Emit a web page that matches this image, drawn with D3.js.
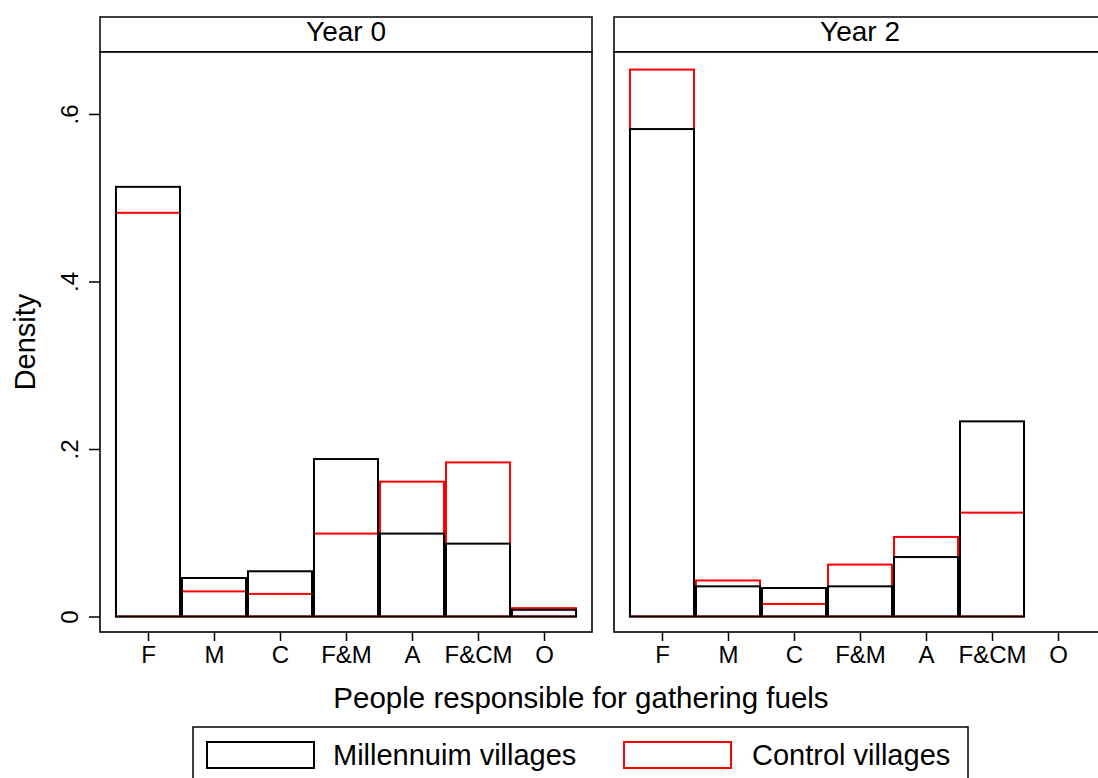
<!DOCTYPE html>
<html>
<head>
<meta charset="utf-8">
<script src="https://cdn.jsdelivr.net/npm/d3@7"></script>
<style>
  body { margin: 0; background: #fff; }
  text { font-family: "Liberation Sans", Arial, Helvetica, sans-serif; fill: #000; }
</style>
</head>
<body>
<div id="chart"></div>
<script>
// categories on the x axis
var categories = ["F", "M", "C", "F&M", "A", "F&CM", "O"];
var years = ["Year 0", "Year 2"];

// densities
var millennium0 = [0.513, 0.046, 0.054, 0.188, 0.099, 0.087, 0.008];
var control0    = [0.482, 0.030, 0.027, 0.099, 0.161, 0.184, 0.010];
var millennium2 = [0.582, 0.036, 0.034, 0.036, 0.071, 0.233, 0];
var control2    = [0.653, 0.043, 0.015, 0.062, 0.095, 0.124, 0];

var yTicks = [0, 0.2, 0.4, 0.6];
var yTickLabels = ["0", ".2", ".4", ".6"];
var legendLabels = ["Millennuim villages", "Control villages"];

var width = 1098, height = 778;
var panelW = 492;
var panelX = [100, 614];
var plotTop = 52, plotBottom = 632;
var stripTop = 17;

var svg = d3.select("#chart").append("svg")
  .attr("width", width)
  .attr("height", height);

// scales (same for both panels)
var xScale = d3.scaleLinear().domain([-0.727, 6.727]).range([0, panelW]);
var yScale = d3.scaleLinear().domain([-0.0185, 0.674]).range([plotBottom, plotTop]);

var barHalf = 0.485;

var panels = [
  {title: years[0], mill: millennium0, ctrl: control0},
  {title: years[1], mill: millennium2, ctrl: control2}
];

panels.forEach(function(p, k) {
  var g = svg.append("g").attr("transform", "translate(" + panelX[k] + ",0)");

  // strip header
  g.append("rect")
    .attr("x", 0).attr("y", stripTop)
    .attr("width", panelW).attr("height", plotTop - stripTop)
    .attr("fill", "#fff").attr("stroke", "#111").attr("stroke-width", 1.6);
  g.append("text")
    .attr("x", panelW / 2).attr("y", 41)
    .attr("text-anchor", "middle")
    .style("font-size", "28px")
    .text(p.title);

  // plot box
  g.append("rect")
    .attr("x", 0).attr("y", plotTop)
    .attr("width", panelW).attr("height", plotBottom - plotTop)
    .attr("fill", "#fff").attr("stroke", "#000").attr("stroke-width", 1.6);

  // control bars (red, behind)
  g.append("g").selectAll("rect")
    .data(p.ctrl.map(function(v, i) { return {i: i, v: v}; }).filter(function(d) { return d.v > 0; }))
    .enter().append("rect")
    .attr("x", function(d) { return xScale(d.i - barHalf); })
    .attr("width", function(d) { return xScale(d.i + barHalf) - xScale(d.i - barHalf); })
    .attr("y", function(d) { return yScale(d.v); })
    .attr("height", function(d) { return yScale(0) - yScale(d.v); })
    .attr("fill", "none").attr("stroke", "#ff0000").attr("stroke-width", 2);

  // millennium bars (black, on top)
  g.append("g").selectAll("rect")
    .data(p.mill.map(function(v, i) { return {i: i, v: v}; }).filter(function(d) { return d.v > 0; }))
    .enter().append("rect")
    .attr("x", function(d) { return xScale(d.i - barHalf); })
    .attr("width", function(d) { return xScale(d.i + barHalf) - xScale(d.i - barHalf); })
    .attr("y", function(d) { return yScale(d.v); })
    .attr("height", function(d) { return yScale(0) - yScale(d.v); })
    .attr("fill", "none").attr("stroke", "#000").attr("stroke-width", 2);

  // x axis
  var xAxis = d3.axisBottom(xScale)
    .tickValues(d3.range(categories.length))
    .tickFormat(function(i) { return categories[i]; })
    .tickSize(9).tickPadding(5);
  var ax = g.append("g")
    .attr("transform", "translate(0," + plotBottom + ")")
    .call(xAxis);
  ax.select(".domain").remove();
  ax.selectAll("line").attr("stroke", "#000").attr("stroke-width", 1.5);
  ax.selectAll("text").style("font-size", "24px").attr("font-family", null);

  // y axis only on the first panel
  if (k === 0) {
    var yAxis = d3.axisLeft(yScale)
      .tickValues(yTicks)
      .tickFormat(function(d, i) { return yTickLabels[i]; })
      .tickSize(11);
    var ay = g.append("g").call(yAxis);
    ay.select(".domain").remove();
    ay.selectAll("line").attr("stroke", "#000").attr("stroke-width", 1.5);
    ay.selectAll("text")
      .attr("transform", "rotate(-90)")
      .attr("x", 0).attr("y", -22).attr("dy", null)
      .attr("text-anchor", "middle")
      .attr("font-family", null)
      .style("font-size", "24px");
  }
});

// axis titles
svg.append("text")
  .attr("transform", "translate(35," + ((plotTop + plotBottom) / 2) + ")rotate(-90)")
  .attr("text-anchor", "middle")
  .style("font-size", "29px")
  .text("Density");

svg.append("text")
  .attr("x", 581).attr("y", 708)
  .attr("text-anchor", "middle")
  .style("font-size", "29.5px")
  .text("People responsible for gathering fuels");

// legend
var legend = svg.append("g");
legend.append("rect")
  .attr("x", 193).attr("y", 727)
  .attr("width", 775).attr("height", 80)
  .attr("fill", "#fff").attr("stroke", "#000").attr("stroke-width", 1.5);

var keyX = [207, 624], textX = [333, 752], keyColors = ["#000", "#ff0000"];
legendLabels.forEach(function(lab, i) {
  legend.append("rect")
    .attr("x", keyX[i]).attr("y", 742)
    .attr("width", 107).attr("height", 26)
    .attr("fill", "#fff").attr("stroke", keyColors[i]).attr("stroke-width", 2);
  legend.append("text")
    .attr("x", textX[i]).attr("y", 765)
    .style("font-size", "29px")
    .text(lab);
});
</script>
</body>
</html>
